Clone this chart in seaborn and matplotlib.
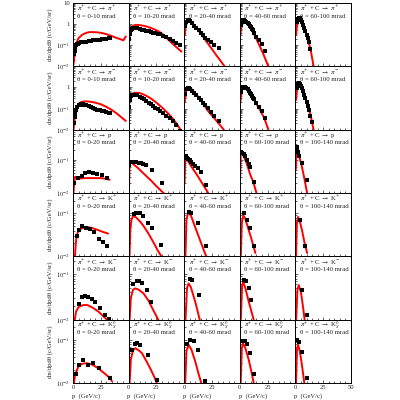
import numpy as np
import pandas as pd
import matplotlib
matplotlib.use('Agg')
import matplotlib.pyplot as plt
import seaborn as sns
from matplotlib.ticker import LogLocator, FixedLocator, MultipleLocator, NullFormatter, FuncFormatter

# labels
products = [r'$\pi^{+}$', r'$\pi^{-}$', 'p', r'K$^{+}$', r'K$^{-}$', r'K$^{0}_{S}$']
angles_pi = ['0-10', '10-20', '20-40', '40-60', '60-100']
angles_other = ['0-20', '20-40', '40-60', '60-100', '100-140']
row_ymax = [10, 10, 0.8, 0.3, 0.25, 0.3]

# pi+ -> pi+
pip_pts_p = [[1, 1.5, 2, 2.7, 3.5, 4.5, 5.5, 7, 8.5, 10, 12, 14, 16, 18, 20, 22, 24, 26, 28, 30, 32, 33],
             [0.5, 1, 2, 3, 4, 5, 6, 8, 10, 12, 14, 16, 18, 20, 22, 24, 26, 28, 31, 34, 37, 40, 43, 46],
             [1, 2, 3, 4, 5, 7, 9, 11, 13, 15, 17, 19, 21, 24, 27, 31],
             [1, 2, 3, 4, 5, 6, 7, 8, 9, 10, 11, 12, 13, 15, 17, 20, 23],
             [1, 2, 3, 4, 5, 6, 7, 8, 9, 10, 11, 12, 13.5]]
pip_pts_y = [[0.037, 0.055, 0.08, 0.1, 0.11, 0.12, 0.13, 0.14, 0.14, 0.15, 0.15, 0.16, 0.16, 0.17, 0.17, 0.18, 0.18, 0.19, 0.2, 0.2, 0.21, 0.22],
             [0.2, 0.35, 0.5, 0.6, 0.65, 0.66, 0.65, 0.62, 0.58, 0.55, 0.52, 0.48, 0.45, 0.42, 0.4, 0.37, 0.35, 0.33, 0.28, 0.24, 0.2, 0.16, 0.13, 0.1],
             [0.8, 1.3, 1.5, 1.5, 1.4, 1.1, 0.85, 0.65, 0.5, 0.38, 0.3, 0.23, 0.18, 0.14, 0.1, 0.07],
             [0.9, 1.3, 1.5, 1.5, 1.4, 1.3, 1.15, 1.0, 0.85, 0.7, 0.6, 0.5, 0.4, 0.25, 0.18, 0.12, 0.055],
             [1.2, 1.8, 2.0, 1.9, 1.6, 1.2, 0.9, 0.65, 0.45, 0.32, 0.22, 0.14, 0.065]]
pip_fit_p = [[0.5, 1, 2, 3, 4.8, 7.8, 10, 13.8, 17, 21.3, 26, 30.3, 35, 39.3, 43, 45.3, 47.5],
             [0.5, 1, 2, 3, 5, 7, 10, 14, 18, 22, 26, 30, 34, 38, 42, 45, 47.5],
             [0.5, 1.5, 3, 5, 10, 15, 20, 25, 30, 37],
             [0.5, 2, 3.5, 6, 10, 14, 17, 21, 26],
             [0.5, 2, 3, 5, 8, 11, 14, 16.5]]
pip_fit_y = [[0.012, 0.025, 0.065, 0.12, 0.21, 0.3, 0.35, 0.41, 0.42, 0.41, 0.38, 0.33, 0.27, 0.22, 0.19, 0.17, 0.26],
             [0.12, 0.3, 0.6, 0.75, 0.88, 0.92, 0.9, 0.82, 0.72, 0.6, 0.48, 0.36, 0.22, 0.14, 0.09, 0.065, 0.05],
             [0.3, 1.3, 1.7, 1.5, 0.8, 0.35, 0.15, 0.065, 0.028, 0.009],
             [0.3, 1.4, 1.6, 1.2, 0.6, 0.25, 0.115, 0.04, 0.009],
             [0.3, 1.8, 2.0, 1.5, 0.6, 0.22, 0.05, 0.009]]

# pi+ -> pi-
pim_pts_p = [[1, 1.5, 2, 3, 4, 5, 6, 7, 8, 9, 10, 12, 14, 16, 18, 20, 22, 24, 26, 28, 30, 32, 33],
             [0.5, 1, 2, 3, 4, 5, 6, 8, 10, 12, 14, 16, 18, 20, 22, 24, 26, 28, 31, 34, 37, 40, 43, 46],
             [1, 2, 3, 4, 5, 7, 9, 11, 13, 15, 17, 19, 21, 24, 27, 31],
             [1, 2, 3, 4, 5, 6, 7, 8, 9, 10, 11, 12, 13, 15, 17, 20, 23],
             [1, 2, 3, 4, 5, 6, 7, 8, 9, 10, 11, 12, 13.5, 15]]
pim_pts_y = [[0.02, 0.04, 0.06, 0.09, 0.12, 0.14, 0.15, 0.16, 0.16, 0.16, 0.155, 0.14, 0.13, 0.12, 0.11, 0.1, 0.09, 0.085, 0.08, 0.075, 0.07, 0.065, 0.06],
             [0.12, 0.25, 0.38, 0.44, 0.46, 0.46, 0.45, 0.42, 0.37, 0.32, 0.27, 0.23, 0.19, 0.16, 0.135, 0.11, 0.095, 0.08, 0.06, 0.045, 0.035, 0.025, 0.016, 0.009],
             [0.5, 0.8, 0.9, 0.9, 0.85, 0.7, 0.55, 0.42, 0.32, 0.25, 0.19, 0.14, 0.11, 0.07, 0.045, 0.025],
             [0.6, 0.95, 1.1, 1.1, 1.0, 0.9, 0.8, 0.68, 0.57, 0.47, 0.4, 0.33, 0.27, 0.18, 0.12, 0.076, 0.035],
             [0.9, 1.4, 1.6, 1.5, 1.2, 0.9, 0.65, 0.45, 0.3, 0.2, 0.13, 0.09, 0.043, 0.024]]
pim_fit_p = [[0.5, 1, 2, 3, 5, 8, 12, 16, 20, 25, 30, 35, 40, 45, 47.5],
             [0.5, 1, 2, 4, 6, 9, 12, 16, 20, 24, 28, 32, 36, 40, 44, 47],
             [0.5, 2, 4, 7, 12, 17, 22, 27, 32, 37],
             [0.5, 2, 3.5, 6, 10, 14, 18, 22, 26],
             [0.5, 2, 3, 5, 8, 11, 14, 16.5]]
pim_fit_y = [[0.01, 0.02, 0.06, 0.11, 0.17, 0.21, 0.22, 0.21, 0.19, 0.16, 0.12, 0.085, 0.055, 0.033, 0.026],
             [0.15, 0.3, 0.45, 0.53, 0.56, 0.56, 0.5, 0.4, 0.3, 0.21, 0.14, 0.09, 0.055, 0.032, 0.017, 0.009],
             [0.2, 0.9, 1.0, 0.8, 0.4, 0.17, 0.07, 0.035, 0.017, 0.008],
             [0.2, 1.0, 1.15, 0.9, 0.45, 0.2, 0.09, 0.035, 0.009],
             [0.25, 1.5, 1.65, 1.2, 0.45, 0.15, 0.04, 0.009]]

# pi+ -> p
pro_pts_p = [[1, 4.5, 8, 11, 14, 18, 22, 26, 31],
             [0.5, 1.5, 3, 5, 7, 9, 11, 13, 16, 21, 30],
             [0.8, 1.5, 2.5, 3.5, 5, 6.5, 8, 10, 12.5, 15, 20],
             [1, 2, 3.4, 4.9, 6.4, 7.9, 9.4, 13],
             [1, 1.5, 2.5, 3.6, 5.5, 10]]
pro_pts_y = [[0.02, 0.028, 0.032, 0.039, 0.042, 0.041, 0.037, 0.035, 0.028],
             [0.068, 0.085, 0.083, 0.085, 0.083, 0.08, 0.078, 0.075, 0.068, 0.048, 0.02],
             [0.13, 0.125, 0.115, 0.105, 0.095, 0.085, 0.075, 0.065, 0.055, 0.042, 0.018],
             [0.17, 0.16, 0.15, 0.13, 0.1, 0.075, 0.06, 0.021],
             [0.24, 0.21, 0.17, 0.13, 0.08, 0.024]]
pro_fit_p = [[0.3, 1, 2, 5, 10, 15, 20, 25, 29, 33],
             [0.3, 0.8, 1.5, 3, 5, 8, 12, 16, 20, 25, 30, 33],
             [0.3, 1, 5, 8, 12, 16, 21.6],
             [0.3, 1, 3, 6, 9.5, 12, 15],
             [0.3, 1, 3, 5.5, 8, 10.5]]
pro_fit_y = [[0.008, 0.02, 0.031, 0.027, 0.028, 0.028, 0.028, 0.028, 0.027, 0.025],
             [0.01, 0.06, 0.085, 0.08, 0.07, 0.058, 0.043, 0.032, 0.024, 0.016, 0.011, 0.009],
             [0.02, 0.12, 0.075, 0.052, 0.033, 0.02, 0.01],
             [0.03, 0.19, 0.14, 0.08, 0.035, 0.022, 0.01],
             [0.05, 0.26, 0.14, 0.07, 0.028, 0.01]]

# pi+ -> K+
kp_pts_p = [[3.5, 5.5, 8.5, 12, 15.5, 19, 23, 27, 31],
            [5, 7, 10, 13, 17, 21, 29],
            [4.5, 6.3, 12.6, 19.4],
            [4, 6.5, 9.5, 13],
            [4.5, 9]]
kp_pts_y = [[0.03, 0.042, 0.05, 0.047, 0.043, 0.036, 0.026, 0.022, 0.017],
            [0.095, 0.105, 0.1, 0.085, 0.06, 0.045, 0.018],
            [0.11, 0.105, 0.06, 0.017],
            [0.1, 0.07, 0.045, 0.017],
            [0.07, 0.017]]
kp_fit_p = [[1.5, 2.5, 3.3, 5, 8, 13.5, 18, 22.5, 27, 31.5],
            [0.7, 1.5, 2.5, 4, 7, 10, 13, 17, 22, 26, 30.5],
            [1, 2, 3.6, 6, 9, 12.6, 16, 20.4],
            [0.8, 1.8, 3.2, 5, 7, 10, 14],
            [0.5, 1.3, 2.4, 4, 6, 8, 10.5]]
kp_fit_y = [[0.008, 0.02, 0.031, 0.04, 0.045, 0.048, 0.045, 0.041, 0.037, 0.034],
            [0.008, 0.04, 0.07, 0.088, 0.08, 0.066, 0.053, 0.037, 0.022, 0.014, 0.009],
            [0.008, 0.07, 0.108, 0.09, 0.055, 0.031, 0.018, 0.009],
            [0.008, 0.06, 0.09, 0.075, 0.05, 0.028, 0.012],
            [0.008, 0.06, 0.083, 0.065, 0.04, 0.022, 0.012]]

# pi+ -> K-
km_pts_p = [[5.4, 7.8, 10.8, 13.5, 16.8, 19.8, 24.3, 28.8, 32.4],
            [4.3, 7.3, 9.5, 11.9, 16.4, 20.3],
            [4.8, 6.9, 13.2],
            [4, 5.4, 7.9, 10],
            [6, 10]]
km_pts_y = [[0.022, 0.032, 0.034, 0.032, 0.029, 0.024, 0.018, 0.013, 0.0105],
            [0.06, 0.071, 0.071, 0.063, 0.045, 0.024],
            [0.078, 0.074, 0.035],
            [0.074, 0.072, 0.049, 0.027],
            [0.045, 0.013]]
km_fit_p = [[1, 2.7, 5, 9, 13, 18.3, 23, 27, 31.5, 33],
            [0.7, 2, 4, 6, 9, 13.4, 18, 22.3, 25, 27.5],
            [1, 2.5, 3.9, 6, 9.9, 12.5, 14.4],
            [0.8, 2, 2.9, 5, 8, 10.5, 12.5],
            [0.5, 1.8, 3, 5, 7, 8.5]]
km_fit_y = [[0.008, 0.015, 0.019, 0.021, 0.021, 0.018, 0.015, 0.012, 0.0095, 0.008],
            [0.008, 0.03, 0.046, 0.049, 0.046, 0.038, 0.026, 0.016, 0.012, 0.009],
            [0.008, 0.05, 0.063, 0.052, 0.025, 0.014, 0.009],
            [0.008, 0.055, 0.069, 0.05, 0.025, 0.015, 0.01],
            [0.008, 0.045, 0.058, 0.04, 0.018, 0.009]]

# pi+ -> K0s
k0_pts_p = [[2.4, 5.6, 9.3, 13.8, 18.3, 23.7, 33.3],
            [2.9, 6, 7.4, 10.4, 17.8, 25.9],
            [2.4, 5.4, 8.4, 12, 18.9],
            [2, 4.4, 6.5, 8.9, 13],
            [1.5, 3.6, 6, 10]]
k0_pts_y = [[0.016, 0.026, 0.035, 0.027, 0.029, 0.022, 0.013],
            [0.06, 0.081, 0.085, 0.075, 0.045, 0.012],
            [0.081, 0.1, 0.097, 0.06, 0.011],
            [0.098, 0.098, 0.082, 0.051, 0.016],
            [0.1, 0.092, 0.054, 0.013]]
k0_fit_p = [[0.5, 1.8, 4.8, 8, 12.3, 17, 22.8, 28, 33.3, 35],
            [0.7, 2, 4, 6, 9, 11.9, 15, 19.4, 23, 25.4],
            [0.8, 2, 3.9, 6.5, 9.9, 13, 15.9],
            [0.7, 1.8, 2.9, 5, 8, 10.5, 12.5],
            [0.5, 1.4, 2.4, 4, 6, 8]]
k0_fit_y = [[0.008, 0.0155, 0.024, 0.028, 0.029, 0.027, 0.022, 0.017, 0.013, 0.011],
            [0.008, 0.035, 0.058, 0.065, 0.058, 0.05, 0.036, 0.022, 0.014, 0.01],
            [0.008, 0.055, 0.078, 0.06, 0.032, 0.016, 0.009],
            [0.008, 0.065, 0.085, 0.065, 0.035, 0.018, 0.01],
            [0.008, 0.06, 0.078, 0.055, 0.025, 0.01]]

pts_p = [pip_pts_p, pim_pts_p, pro_pts_p, kp_pts_p, km_pts_p, k0_pts_p]
pts_y = [pip_pts_y, pim_pts_y, pro_pts_y, kp_pts_y, km_pts_y, k0_pts_y]
fit_p = [pip_fit_p, pim_fit_p, pro_fit_p, kp_fit_p, km_fit_p, k0_fit_p]
fit_y = [pip_fit_y, pim_fit_y, pro_fit_y, kp_fit_y, km_fit_y, k0_fit_y]

# long tables for seaborn
rec_pts, rec_fit = [], []
for r in range(6):
    for c in range(5):
        for p, y in zip(pts_p[r][c], pts_y[r][c]):
            rec_pts.append((r, c, p, y))
        for p, y in zip(fit_p[r][c], fit_y[r][c]):
            rec_fit.append((r, c, p, y))
df_pts = pd.DataFrame(rec_pts, columns=['row', 'col', 'p', 'y'])
df_fit = pd.DataFrame(rec_fit, columns=['row', 'col', 'p', 'y'])

sns.set_style('ticks')
plt.rcParams['font.family'] = ['Liberation Serif', 'DejaVu Serif']
plt.rcParams['mathtext.fontset'] = 'stix'

# no sharex/sharey: shared axes would also share tick locators
fig, axes = plt.subplots(6, 5, figsize=(4, 4), dpi=100)
fig.subplots_adjust(left=73/400, right=351/400, top=1-3/400, bottom=1-383/400, wspace=0, hspace=0)

exp_labels = {10: '10', 1: '1', 0.1: r'$10^{-1}$', 0.01: r'$10^{-2}$'}

for r in range(6):
    for c in range(5):
        ax = axes[r, c]
        ax.set_yscale('log')
        sub_f = df_fit[(df_fit.row == r) & (df_fit.col == c)]
        sub_p = df_pts[(df_pts.row == r) & (df_pts.col == c)]
        sns.lineplot(data=sub_f, x='p', y='y', color='red', lw=1.4, estimator=None, sort=False, ax=ax)
        sns.scatterplot(data=sub_p, x='p', y='y', marker='s', s=5, color='black', linewidth=0, ax=ax, zorder=3)
        ax.set_xlim(0, 50)
        ax.set_ylim(0.01, row_ymax[r])
        ax.set_xlabel('')
        ax.set_ylabel('')

        ang = angles_pi[c] if r < 2 else angles_other[c]
        ax.text(0.08, 0.91, r'$\pi^{+}$ + C $\rightarrow$ ' + products[r], transform=ax.transAxes,
                fontsize=4.9, va='center', ha='left')
        ax.text(0.08, 0.79, 'θ = ' + ang + ' mrad', transform=ax.transAxes,
                fontsize=4.9, va='center', ha='left')

        for s in ax.spines.values():
            s.set_linewidth(0.7)
            s.set_color('black')
        ax.tick_params(which='both', direction='in', width=0.5, labelsize=4.8)
        ax.tick_params(axis='y', pad=2)
        ax.tick_params(axis='x', pad=1.5)
        ax.tick_params(which='major', length=2.5)
        ax.tick_params(which='minor', length=1.3)

        if r < 2:
            ticks = [0.01, 0.1, 1, 10] if r == 0 else [0.01, 0.1, 1]
        else:
            ticks = [0.01, 0.1]
        ax.yaxis.set_major_locator(FixedLocator(ticks))
        ax.yaxis.set_minor_locator(LogLocator(base=10, subs=np.arange(2, 10)))
        ax.yaxis.set_minor_formatter(NullFormatter())
        ax.yaxis.set_major_formatter(FuncFormatter(lambda v, pos: exp_labels.get(round(v, 3), '')))

        ax.xaxis.set_major_locator(FixedLocator([0, 25, 50] if c == 4 else [0, 25]))
        ax.xaxis.set_minor_locator(MultipleLocator(5))

        ax.tick_params(labelleft=(c == 0), labelbottom=(r == 5))

        if c == 0:
            ax.set_ylabel('dn/dpdθ (c/GeV/sr)', fontsize=4.9)
            ax.yaxis.set_label_coords(-0.36, 0.5)
        if r == 5:
            ax.set_xlabel('p  (GeV/c)', fontsize=4.8)
            ax.xaxis.set_label_coords(0.23, -0.155)

plt.savefig('out.png', dpi=100)
